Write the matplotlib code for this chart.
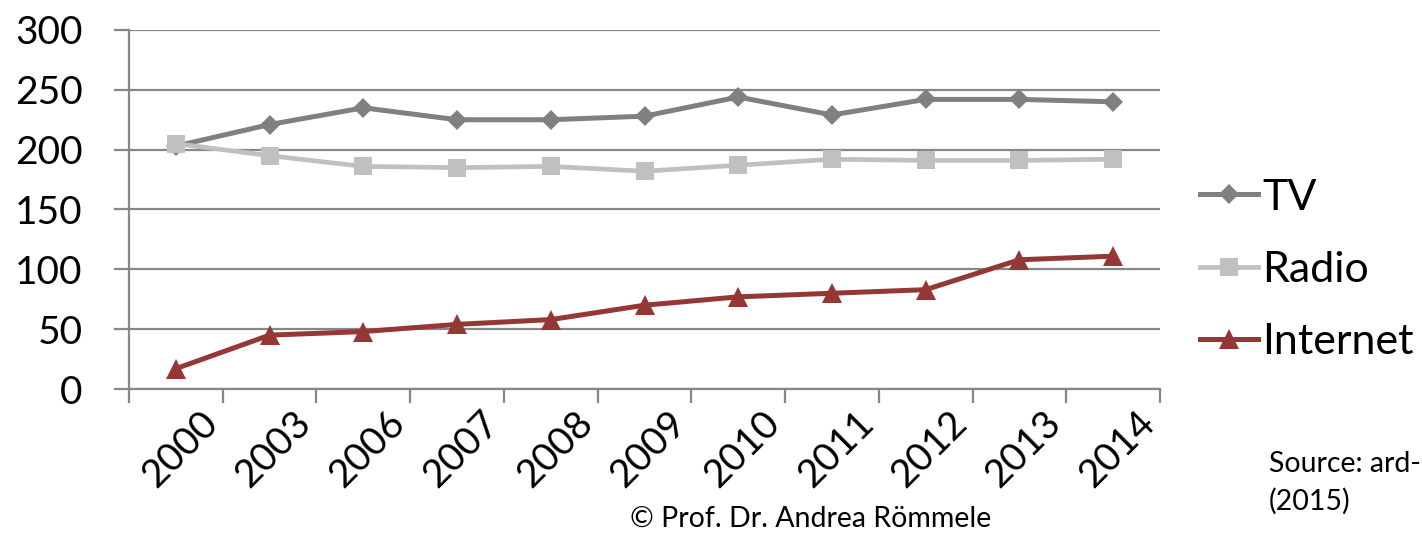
import matplotlib
matplotlib.use("Agg")
import matplotlib.pyplot as plt
from matplotlib.ticker import FixedLocator, NullFormatter
from matplotlib.transforms import ScaledTranslation

years = ["2000", "2003", "2006", "2007", "2008", "2009", "2010",
         "2011", "2012", "2013", "2014"]
tv = [203, 221, 235, 225, 225, 228, 244, 229, 242, 242, 240]
radio = [205, 195, 186, 185, 186, 182, 187, 192, 191, 191, 192]
internet = [17, 45, 48, 54, 58, 70, 77, 80, 83, 108, 111]
y_ticks = [0, 50, 100, 150, 200, 250, 300]

plt.rcParams["font.family"] = ["Lato", "DejaVu Sans"]

W, H = 1422, 535
fig = plt.figure(figsize=(W / 100, H / 100), dpi=100)
ax = fig.add_axes([129 / W, 1 - 389 / H, (1160 - 129) / W, (389 - 30) / H])

x = list(range(len(years)))
grid_col = "#878787"

ax.plot(x, tv, color="#808080", lw=3.6, marker="D", ms=10.5,
        mec="#808080", mew=0, label="TV", zorder=3)
ax.plot(x, radio, color="#c0c0c0", lw=3.4, marker="s", ms=13.5,
        mec="#c0c0c0", mew=0, label="Radio", zorder=4)
ax.plot(x, internet, color="#953735", lw=3.6, marker="^", ms=14,
        mec="#953735", mew=0, label="Internet", zorder=5)

ax.set_xlim(-0.5, len(years) - 0.5)
ax.set_ylim(0, 300)
ax.set_yticks(y_ticks)
ax.set_yticklabels([str(v) for v in y_ticks])
ax.yaxis.grid(True, color=grid_col, lw=1.6)
ax.set_axisbelow(True)

ax.set_xticks(x)
ax.set_xticklabels(years, rotation=45, ha="center", va="top")
ax.xaxis.set_minor_locator(FixedLocator([i - 0.5 for i in range(len(years) + 1)]))
ax.xaxis.set_minor_formatter(NullFormatter())
ax.tick_params(axis="x", which="major", length=0, pad=11, labelsize=28)
ax.tick_params(axis="x", which="minor", length=10, width=1.6, color=grid_col)
ax.tick_params(axis="y", length=10.5, width=1.6, color=grid_col, pad=23,
               labelsize=28)
# nudge the rotated year labels slightly to the right
shift = ScaledTranslation(4 / 100, 0, fig.dpi_scale_trans)
for lab in ax.get_xticklabels():
    lab.set_transform(lab.get_transform() + shift)

for side in ("top", "right"):
    ax.spines[side].set_visible(False)
for side in ("left", "bottom"):
    ax.spines[side].set_color(grid_col)
    ax.spines[side].set_linewidth(1.6)

ax.legend(loc="center left", bbox_to_anchor=(1200 / W, 1 - 270 / H),
          bbox_transform=fig.transFigure, frameon=False, fontsize=31,
          handlelength=1.35, handletextpad=0.1, labelspacing=0.8,
          borderpad=0, borderaxespad=0)

fig.text(1269 / W, 1 - 472 / H, "Source: ard-", fontsize=20.5, ha="left",
         va="baseline")
fig.text(1269 / W, 1 - 510 / H, "(2015)", fontsize=20.5, ha="left",
         va="baseline")
fig.text(811 / W, 1 - 527 / H, "\u00a9 Prof. Dr. Andrea R\u00f6mmele",
         fontsize=20.5, ha="center", va="baseline")

fig.savefig("out.png", dpi=100, facecolor="white")
